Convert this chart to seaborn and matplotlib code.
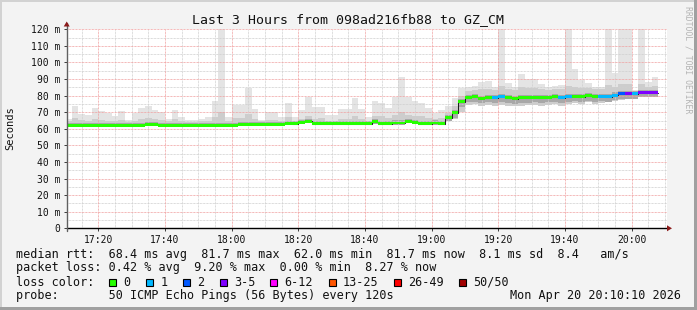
import matplotlib
matplotlib.use("Agg")
import matplotlib.pyplot as plt
import seaborn as sns
import numpy as np
import pandas as pd
from matplotlib.patches import Rectangle, Polygon

# ---------------- data ----------------
# start of each 120 s step, in minutes after 17:00
step_start = [10, 12, 14, 16, 18, 20, 22, 24, 26, 28,
              30, 32, 34, 36, 38, 40, 42, 44, 46, 48,
              50, 52, 54, 56, 58, 60, 62, 64, 66, 68,
              70, 72, 74, 76, 78, 80, 82, 84, 86, 88,
              90, 92, 94, 96, 98, 100, 102, 104, 106, 108,
              110, 112, 114, 116, 118, 120, 122, 124, 126, 128,
              130, 132, 134, 136, 138, 140, 142, 144, 146, 148,
              150, 152, 154, 156, 158, 160, 162, 164, 166, 168,
              170, 172, 174, 176, 178, 180, 182, 184, 186]

median_ms = [62.0, 62.0, 62.0, 62.0, 62.0, 62.0, 62.0, 62.0, 62.0, 62.0,
             62.0, 62.0, 62.8, 62.8, 62.0, 62.0, 62.0, 62.0, 62.0, 62.0,
             62.0, 62.0, 62.0, 62.0, 62.0, 62.0, 62.8, 62.8, 62.8, 62.8,
             62.8, 62.8, 62.8, 63.3, 63.0, 63.8, 64.5, 63.0, 63.0, 63.0,
             63.0, 63.0, 63.0, 63.0, 63.0, 63.0, 64.3, 63.0, 63.0, 63.5,
             63.5, 64.5, 64.0, 63.0, 63.0, 63.5, 63.0, 66.8, 69.7, 76.4,
             79.0, 79.2, 78.4, 79.0, 78.7, 79.2, 78.8, 78.2, 78.7, 78.7,
             79.0, 78.6, 79.0, 79.2, 78.7, 79.2, 79.6, 79.2, 80.0, 79.2,
             79.6, 79.4, 80.3, 81.0, 81.0, 81.0, 81.8, 81.8, 81.7]

loss_pct = [0, 0, 0, 0, 0, 0, 0, 0, 0, 0,
            0, 0, 0, 0, 0, 0, 0, 0, 0, 0,
            0, 0, 0, 0, 0, 0, 0, 0, 0, 0,
            0, 0, 0, 0, 0, 0, 0, 0, 0, 0,
            0, 0, 0, 0, 0, 0, 0, 0, 0, 0,
            0, 0, 0, 0, 0, 0, 0, 0, 0, 0,
            0, 0, 0, 0, 2, 2, 0, 0, 0, 0,
            0, 0, 0, 0, 2, 2, 0, 0, 0, 0,
            2, 2, 2, 4, 8, 2, 9.2, 8, 8.27]

smoke_min = [61.4, 61.4, 61.4, 61.4, 61.4, 61.4, 61.4, 61.4, 61.4, 61.4,
             61.4, 61.4, 62.0, 62.0, 61.4, 61.4, 61.4, 61.4, 61.4, 61.4,
             61.4, 61.4, 61.4, 61.4, 61.4, 61.4, 62.0, 62.0, 62.0, 62.0,
             62.0, 62.0, 62.0, 62.3, 62.2, 62.8, 63.2, 62.2, 62.2, 62.2,
             62.2, 62.2, 62.2, 62.2, 62.2, 62.2, 63.0, 62.2, 62.2, 62.5,
             62.5, 63.2, 63.0, 62.2, 62.2, 62.5, 62.2, 64.5, 66.0, 70.0,
             74.5, 75.0, 74.0, 74.5, 74.0, 74.5, 74.0, 73.5, 74.0, 74.5,
             74.5, 74.0, 74.5, 75.0, 74.0, 75.0, 75.5, 75.0, 76.0, 75.0,
             75.5, 76.0, 76.5, 77.5, 78.0, 78.0, 79.0, 79.0, 79.0]

smoke_hi = [64.5, 66.5, 65.5, 65.0, 66.0, 65.5, 65.0, 64.5, 65.5, 64.0,
            65.0, 66.0, 66.5, 66.0, 65.5, 64.5, 66.0, 65.0, 64.0, 64.0,
            64.5, 65.0, 67.0, 70.0, 65.0, 66.5, 66.5, 69.0, 66.0, 64.5,
            65.5, 65.5, 65.0, 67.0, 65.0, 66.0, 68.0, 66.0, 66.5, 65.0,
            65.0, 66.0, 66.0, 68.0, 66.0, 65.0, 68.0, 67.5, 66.5, 68.5,
            70.0, 68.5, 68.0, 67.5, 66.5, 66.0, 66.5, 69.5, 73.5, 80.0,
            83.0, 83.5, 84.0, 84.0, 83.5, 86.0, 84.0, 83.5, 85.0, 84.5,
            84.5, 84.0, 83.5, 84.0, 84.0, 86.0, 85.0, 84.5, 84.5, 84.0,
            84.0, 86.5, 85.5, 87.0, 87.0, 82.5, 87.0, 85.5, 86.0]

smoke_max = [65.7, 73.7, 68.9, 68.3, 72.3, 70.9, 69.7, 67.7, 70.7, 65.3,
             69.7, 72.3, 73.7, 71.3, 69.9, 65.9, 71.3, 67.3, 65.3, 65.3,
             66.1, 67.3, 77.0, 124.0, 67.3, 74.4, 74.4, 84.4, 71.8, 65.3,
             70.3, 70.3, 67.3, 75.4, 67.3, 71.3, 79.0, 73.4, 73.4, 68.3,
             68.3, 71.8, 71.8, 78.4, 71.8, 67.3, 76.8, 75.4, 72.3, 79.0,
             91.0, 79.0, 76.5, 75.4, 72.3, 69.4, 71.3, 73.7, 78.4, 84.4,
             85.0, 85.8, 88.4, 88.8, 85.4, 124.0, 87.4, 85.4, 93.0, 89.8,
             90.0, 86.8, 85.0, 85.8, 86.3, 124.0, 95.8, 89.4, 87.4, 85.0,
             85.0, 124.0, 93.8, 124.0, 124.0, 83.4, 124.0, 88.4, 91.0]

loss_labels = ["0", "1", "2", "3-5", "6-12", "13-25", "26-49", "50/50"]
loss_lower_pings = [0, 1, 2, 3, 6, 13, 26, 50]
loss_colors = ["#26ff00", "#00b8ff", "#0059ff", "#7e00ff",
               "#ff00ff", "#ff5500", "#ff0000", "#a10000"]
pings_per_step = 50

y_ticks = [0, 10, 20, 30, 40, 50, 60, 70, 80, 90, 100, 110, 120]
y_tick_labels = ["0", "10 m", "20 m", "30 m", "40 m", "50 m", "60 m",
                 "70 m", "80 m", "90 m", "100 m", "110 m", "120 m"]
x_ticks = [20, 40, 60, 80, 100, 120, 140, 160, 180]
x_tick_labels = ["17:20", "17:40", "18:00", "18:20", "18:40",
                 "19:00", "19:20", "19:40", "20:00"]

title = "Last 3 Hours from 098ad216fb88 to GZ_CM"
line_rtt = "median rtt:  68.4 ms avg  81.7 ms max  62.0 ms min  81.7 ms now  8.1 ms sd  8.4   am/s"
line_loss = "packet loss: 0.42 % avg  9.20 % max  0.00 % min  8.27 % now"
line_probe = "probe:       50 ICMP Echo Pings (56 Bytes) every 120s"
stamp = "Mon Apr 20 20:10:10 2026"

# ---------------- figure ----------------
W, H = 697, 310
sns.set_style("white")
MONO = ["DejaVu Sans Mono"]
plt.rcParams["font.family"] = MONO

fig = plt.figure(figsize=(W / 100, H / 100), dpi=100, facecolor="#f3f3f3")


def fx(px):
    return px / W


def fy(py):
    return 1 - py / H


X0, X1, YT, YB = 66.7, 666.7, 29.3, 228.3
ax = fig.add_axes([fx(X0), fy(YB), (X1 - X0) / W, (YB - YT) / H])
ax.set_facecolor("white")
XMIN, XMAX = 10.5, 190.5
ax.set_xlim(XMIN, XMAX)
ax.set_ylim(0, 120)
for s in ax.spines.values():
    s.set_visible(False)

# grid (dotted)
dots = (0, (0.72, 0.72))
for v in range(5, 121, 5):
    if v % 10:
        ax.axhline(v, color="#cfcfcf", lw=0.72, ls=dots, zorder=2)
for v in range(15, 191, 5):
    if v % 20:
        ax.axvline(v, color="#cfcfcf", lw=0.72, ls=dots, zorder=2)
for v in y_ticks[1:]:
    ax.axhline(v, color="#f0a0a0", lw=0.72, ls=dots, zorder=2.1)
for v in x_ticks:
    ax.axvline(v, color="#f0a0a0", lw=0.72, ls=dots, zorder=2.1)

# smoke
lo = np.array(smoke_min)
hi = np.array(smoke_hi)
mx = np.array(smoke_max)
med = np.array(median_ms)
ax.bar(step_start, mx - lo, bottom=lo, width=2, align="edge",
       color="#e4e4e4", lw=0, zorder=1)
ax.bar(step_start, hi - lo, bottom=lo, width=2, align="edge",
       color="#cdcdcd", lw=0, zorder=1.1)
dense_lo = np.maximum(lo, med - 3.0)
dense_hi = np.minimum(hi, med + 1.6)
ax.bar(step_start, dense_hi - dense_lo, bottom=dense_lo, width=2, align="edge",
       color="#a8a8a8", lw=0, zorder=1.2)

# median black step line
df = pd.DataFrame({"t": step_start + [step_start[-1] + 2],
                   "median": median_ms + [median_ms[-1]]})
sns.lineplot(data=df, x="t", y="median", drawstyle="steps-post",
             color="#202020", lw=0.75, estimator=None, ax=ax, zorder=3)


def loss_color(pct):
    pings = int(round(pct * pings_per_step / 100))
    col = loss_colors[0]
    for lower, c in zip(loss_lower_pings, loss_colors):
        if pings >= lower:
            col = c
    return col


cols = [loss_color(p) for p in loss_pct]
ax.bar(step_start, 1.8, bottom=med - 0.9, width=2, align="edge",
       color=cols, lw=0, zorder=3.5)

# ticks / labels
ax.set_yticks(y_ticks)
ax.set_yticklabels(y_tick_labels)
ax.set_xticks(x_ticks)
ax.set_xticklabels(x_tick_labels)
ax.set_xlabel("")
ax.set_ylabel("")
ax.tick_params(axis="both", which="major", direction="out", length=2.2,
               width=0.72, color="#404040", labelsize=7, pad=2.3,
               labelcolor="#111111")
ax.tick_params(axis="x", bottom=True)
ax.tick_params(axis="y", left=True)

# axis lines + arrows
ax.plot([XMIN, XMAX + 0.3], [0, 0], color="black", lw=1.0, clip_on=False, zorder=5)
ax.plot([XMIN, XMIN], [-1.5, 123.5], color="#606060", lw=1.0, clip_on=False, zorder=5)
fig.add_artist(Polygon([[fx(667), fy(225.3)], [fx(667), fy(231.3)], [fx(672), fy(228.3)]],
                       closed=True, transform=fig.transFigure, color="#8b1a1a", lw=0))
fig.add_artist(Polygon([[fx(63.7), fy(26.5)], [fx(69.7), fy(26.5)], [fx(66.7), fy(21.5)]],
                       closed=True, transform=fig.transFigure, color="#8b1a1a", lw=0))

# texts
fig.text(fx(347.5), fy(19.5), title, ha="center", va="center", fontsize=9.5,
         color="#111111", family=MONO)
fig.text(fx(10), fy(128), "Seconds", rotation=90, ha="center", va="center",
         fontsize=7.5, color="#111111", family=MONO)
fig.text(fx(688), fy(60), "RRDTOOL / TOBI OETIKER", rotation=270, ha="center",
         va="center", fontsize=5.9, color="#b4b4b4", family=MONO)

FS = 8.5
fig.text(fx(16), fy(254.3), line_rtt, ha="left", va="center", fontsize=FS,
         color="#111111", family=MONO)
fig.text(fx(16), fy(267.9), line_loss, ha="left", va="center", fontsize=FS,
         color="#111111", family=MONO)
fig.text(fx(16), fy(282.3), "loss color:", ha="left", va="center", fontsize=FS,
         color="#111111", family=MONO)
fig.text(fx(16), fy(295.7), line_probe, ha="left", va="center", fontsize=FS,
         color="#111111", family=MONO)
fig.text(fx(681), fy(295.7), stamp, ha="right", va="center", fontsize=FS,
         color="#111111", family=MONO)

sq_x = [108.7, 145.7, 182.5, 219.5, 269.5, 328.5, 393.5, 459.0]
for px, lab, col in zip(sq_x, loss_labels, loss_colors):
    fig.add_artist(Rectangle((fx(px), fy(286.2)), 7.4 / W, 7.6 / H,
                             transform=fig.transFigure, facecolor=col,
                             edgecolor="black", lw=0.8))
    fig.text(fx(px + 14.5), fy(282.3), lab, ha="left", va="center",
             fontsize=FS, color="#111111", family=MONO)

# frame
fig.add_artist(Rectangle((0, fy(2)), 1, 2 / H, transform=fig.transFigure,
                         color="#d2d2d2", lw=0))
fig.add_artist(Rectangle((0, 0), 2 / W, 1, transform=fig.transFigure,
                         color="#d2d2d2", lw=0))
fig.add_artist(Rectangle((0, 0), 1, 3 / H, transform=fig.transFigure,
                         color="#a0a0a0", lw=0))
fig.add_artist(Rectangle((1 - 3 / W, 0), 3 / W, 1, transform=fig.transFigure,
                         color="#a0a0a0", lw=0))

fig.savefig("out.png", dpi=100, facecolor=fig.get_facecolor())
